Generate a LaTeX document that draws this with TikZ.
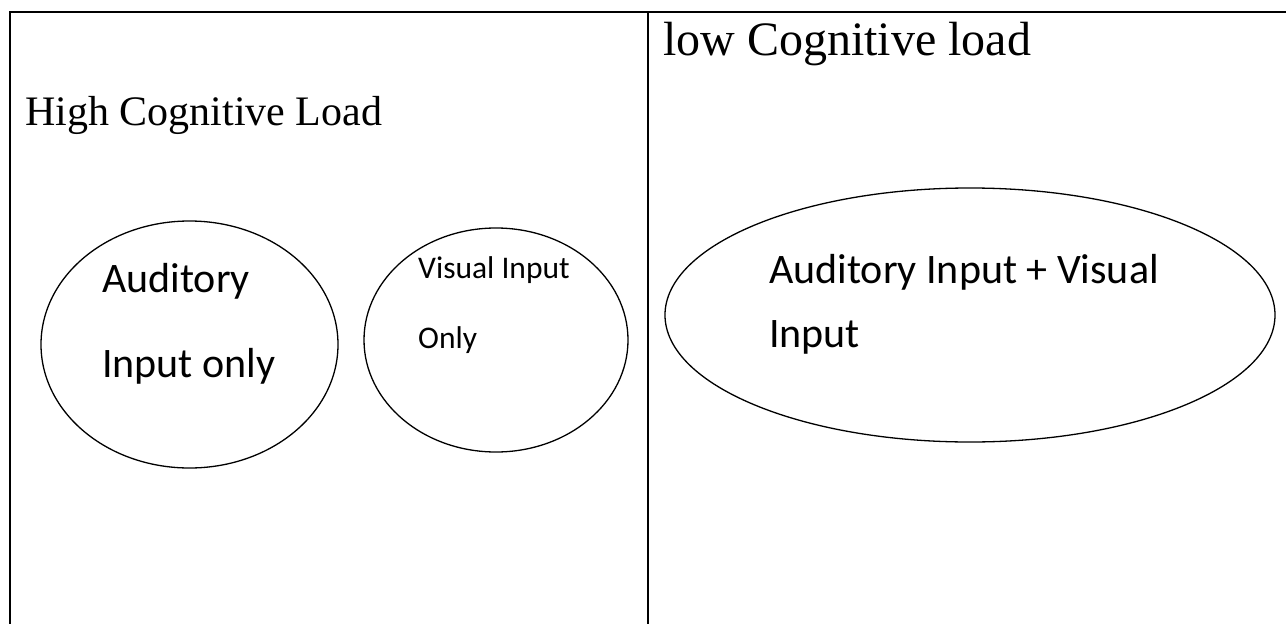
\documentclass[tikz,border=0pt]{standalone}
\usepackage{fontspec}
\setmainfont{Liberation Serif}
\newfontfamily\calfont{Carlito}
\usetikzlibrary{shapes.geometric}
\tikzset{
  blob/.style={ellipse,draw,line width=1.3pt,inner sep=0pt},
  txt/.style={anchor=base west,inner sep=0pt},
}
\begin{document}
\begin{tikzpicture}[x=1pt,y=-1pt]
\useasboundingbox (0,0) rectangle (1286,624);
\draw [line width=2pt](10,624)--(10,12)--(1286,12);
\draw [line width=2pt](648,12)--(648,624);
\node [txt]at(25,125){\fontsize{42}{50}\selectfont High Cognitive Load};
\node [txt]at(663,55){\fontsize{48}{56}\selectfont low Cognitive load};
\node [blob,minimum width=297pt,minimum height=247pt] (audonly) at (189.5,344.5) {};
\node [blob,minimum width=264pt,minimum height=224pt] (visonly) at (496,340) {};
\node [blob,minimum width=610pt,minimum height=254pt] (both) at (970,315) {};
\node [txt]at(102,292){\calfont\fontsize{42}{50}\selectfont Auditory};
\node [txt]at(102,377){\calfont\fontsize{42}{50}\selectfont Input only};
\node [txt]at(418,278){\calfont\fontsize{31.5}{38}\selectfont Visual Input};
\node [txt]at(418,348){\calfont\fontsize{31.5}{38}\selectfont Only};
\node [txt]at(769,283){\calfont\fontsize{42}{50}\selectfont Auditory Input + Visual};
\node [txt]at(769,347){\calfont\fontsize{42}{50}\selectfont Input};
\end{tikzpicture}
\end{document}
